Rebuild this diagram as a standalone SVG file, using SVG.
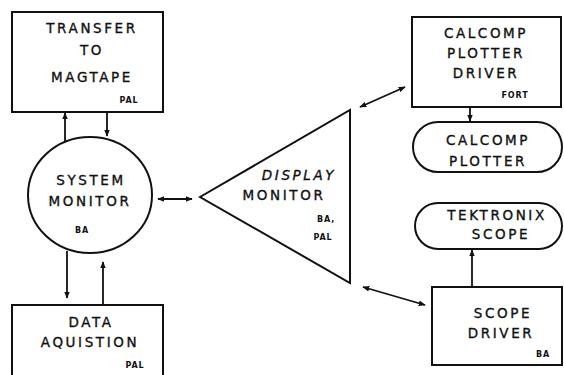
<svg xmlns="http://www.w3.org/2000/svg" width="564" height="375" viewBox="0 0 564 375">
<defs>
<marker id="ah" viewBox="0 0 10 10" refX="9" refY="5" markerWidth="7" markerHeight="7" markerUnits="userSpaceOnUse" orient="auto-start-reverse">
<path d="M0,1 L10,5 L0,9 z" fill="#111"/>
</marker>
<style>
.s{fill:#fff;stroke:#111;stroke-width:2}
.c{fill:none;stroke:#111;stroke-width:1.8}
.t{font-family:"DejaVu Sans",sans-serif;font-size:13.5px;fill:#111;stroke:#111;stroke-width:0.35;text-anchor:middle;letter-spacing:2.6px}
.m{font-family:"DejaVu Sans",sans-serif;font-size:8px;fill:#111;text-anchor:middle;letter-spacing:0.9px;font-weight:bold}
</style>
</defs>
<rect width="564" height="375" fill="#fff"/>
<g id="connectors">
<line class="c" x1="65" y1="143" x2="65" y2="113" marker-end="url(#ah)"/>
<line class="c" x1="107" y1="113" x2="107" y2="136" marker-end="url(#ah)"/>
<line class="c" x1="67" y1="251" x2="67" y2="298" marker-end="url(#ah)"/>
<line class="c" x1="103" y1="305" x2="103" y2="262" marker-end="url(#ah)"/>
<line class="c" x1="158" y1="199" x2="192" y2="199" marker-start="url(#ah)" marker-end="url(#ah)"/>
<line class="c" x1="360" y1="107" x2="405" y2="87" marker-start="url(#ah)" marker-end="url(#ah)"/>
<line class="c" x1="363" y1="287" x2="425" y2="305" marker-start="url(#ah)" marker-end="url(#ah)"/>
<line class="c" x1="470" y1="107" x2="470" y2="121" marker-end="url(#ah)"/>
<line class="c" x1="472" y1="287" x2="472" y2="250" marker-end="url(#ah)"/>
</g>
<g id="transfer">
<rect class="s" x="12" y="12" width="151" height="100"/>
<text class="t" x="92" y="33">TRANSFER</text>
<text class="t" x="92" y="55">TO</text>
<text class="t" x="92" y="82">MAGTAPE</text>
<text class="m" x="129" y="103">PAL</text>
</g>
<g id="system">
<ellipse class="s" cx="90" cy="195" rx="62" ry="58"/>
<text class="t" x="91" y="185">SYSTEM</text>
<text class="t" x="90" y="206">MONITOR</text>
<text class="m" x="82" y="233">BA</text>
</g>
<g id="data">
<rect class="s" x="12" y="305" width="151" height="80"/>
<text class="t" x="91" y="327">DATA</text>
<text class="t" x="90" y="347">AQUISTION</text>
<text class="m" x="135" y="368">PAL</text>
</g>
<g id="display">
<path class="s" d="M200,197 L350,110 L350,283 Z"/>
<text class="t" x="299" y="180" font-style="italic">DISPLAY</text>
<text class="t" x="284" y="200">MONITOR</text>
<text class="m" x="326" y="222">BA,</text>
<text class="m" x="323" y="240">PAL</text>
</g>
<g id="calcomp-driver">
<rect class="s" x="412" y="17" width="149" height="90"/>
<text class="t" x="486" y="38">CALCOMP</text>
<text class="t" x="486" y="58">PLOTTER</text>
<text class="t" x="486" y="78">DRIVER</text>
<text class="m" x="515" y="98">FORT</text>
</g>
<g id="calcomp-plotter">
<rect class="s" x="413" y="122" width="149" height="50" rx="25"/>
<text class="t" x="488" y="145">CALCOMP</text>
<text class="t" x="488" y="166">PLOTTER</text>
</g>
<g id="tektronix">
<rect class="s" x="415" y="203" width="147" height="46" rx="23"/>
<text class="t" x="497" y="220">TEKTRONIX</text>
<text class="t" x="501" y="239">SCOPE</text>
</g>
<g id="scope-driver">
<rect class="s" x="432" y="287" width="130" height="78"/>
<text class="t" x="503" y="318">SCOPE</text>
<text class="t" x="501" y="338">DRIVER</text>
<text class="m" x="543" y="357">BA</text>
</g>
</svg>
